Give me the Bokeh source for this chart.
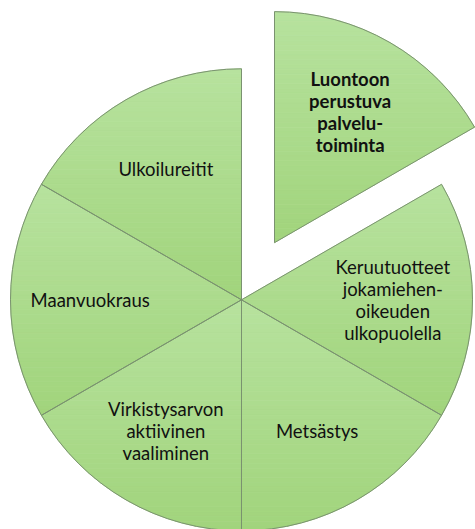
import math
from bokeh.plotting import figure
from bokeh.models import ColumnDataSource
from bokeh.core.properties import value
from bokeh.embed import file_html
from bokeh.resources import INLINE

# ---- data ----
categories = [
    "Luontoon\nperustuva\npalvelu-\ntoiminta",
    "Keruutuotteet\njokamiehen-\noikeuden\nulkopuolella",
    "Metsästys",
    "Virkistysarvon\naktiivinen\nvaaliminen",
    "Maanvuokraus",
    "Ulkoilureitit",
]
values = [1, 1, 1, 1, 1, 1]
exploded = [True, False, False, False, False, False]
bold = [True, False, False, False, False, False]

# ---- layout / style ----
R = 231.0
EXPLODE = 66.0
LABEL_R = 0.655 * R
W, H = 475, 529
cx_px, cy_px = 241.0, 299.3  # centre inside figure (pixels from left/top)
TOP_COLOR = (0xB7, 0xE2, 0x9E)
BOTTOM_COLOR = (0xA1, 0xD4, 0x7C)
BANDS = 48

total = float(sum(values))
starts, ends, xs, ys, lx, ly = [], [], [], [], [], []
cum = 0.0
for v, ex in zip(values, exploded):
    end = math.radians(90.0 - cum / total * 360.0)
    start = math.radians(90.0 - (cum + v) / total * 360.0)
    cum += v
    mid = (start + end) / 2.0
    ox = EXPLODE * math.cos(mid) if ex else 0.0
    oy = EXPLODE * math.sin(mid) if ex else 0.0
    starts.append(start)
    ends.append(end)
    xs.append(ox)
    ys.append(oy)
    lx.append(ox + LABEL_R * math.cos(mid))
    ly.append(oy + LABEL_R * math.sin(mid))


def clip(poly, yc, keep_above):
    out = []
    n = len(poly)
    for k in range(n):
        a = poly[k]
        b = poly[(k + 1) % n]
        ina = a[1] >= yc if keep_above else a[1] <= yc
        inb = b[1] >= yc if keep_above else b[1] <= yc
        if ina:
            out.append(a)
        if ina != inb:
            t = (yc - a[1]) / (b[1] - a[1])
            out.append((a[0] + t * (b[0] - a[0]), yc))
    return out


def hexcol(t):
    c = [round(TOP_COLOR[j] + (BOTTOM_COLOR[j] - TOP_COLOR[j]) * t) for j in range(3)]
    return "#%02x%02x%02x" % tuple(c)


# gradient bands built from each slice's shape (derived from the values)
bx, by, bc = [], [], []
for i in range(len(values)):
    n = 90
    poly = [(xs[i], ys[i])]
    for k in range(n + 1):
        a = starts[i] + (ends[i] - starts[i]) * k / n
        poly.append((xs[i] + R * math.cos(a), ys[i] + R * math.sin(a)))
    ymax = max(pt[1] for pt in poly)
    ymin = min(pt[1] for pt in poly)
    step = (ymax - ymin) / BANDS
    for b in range(BANDS):
        y1 = ymax - b * step
        y0 = y1 - step
        part = clip(clip(poly, y0, True), y1, False)
        if len(part) < 3:
            continue
        bx.append([pt[0] for pt in part])
        by.append([pt[1] for pt in part])
        bc.append(hexcol((b + 0.5) / BANDS))

src = ColumnDataSource(dict(x=xs, y=ys, start=starts, end=ends))
bsrc = ColumnDataSource(dict(xs=bx, ys=by, c=bc))

p = figure(width=W, height=H, output_backend="svg", toolbar_location=None,
           x_range=(-cx_px, W - cx_px), y_range=(cy_px - H, cy_px),
           min_border=0, outline_line_color=None, background_fill_color="white")
p.axis.visible = False
p.grid.visible = False

p.patches(xs="xs", ys="ys", source=bsrc, fill_color="c", line_color="c",
          line_width=0.8)

p.wedge(x="x", y="y", radius=R, start_angle="start", end_angle="end",
        direction="anticlock", source=src, fill_alpha=0,
        line_color="#7a9270", line_width=1)

for i, lab in enumerate(categories):
    p.text(x=[lx[i]], y=[ly[i]], text=[lab], text_align="center",
           text_baseline="middle", text_font=value("Lato"),
           text_font_size="18.5px", text_line_height=1.0,
           text_font_style="bold" if bold[i] else "normal",
           text_color="#111111")

open("out.html", "w").write(file_html(p, INLINE))
